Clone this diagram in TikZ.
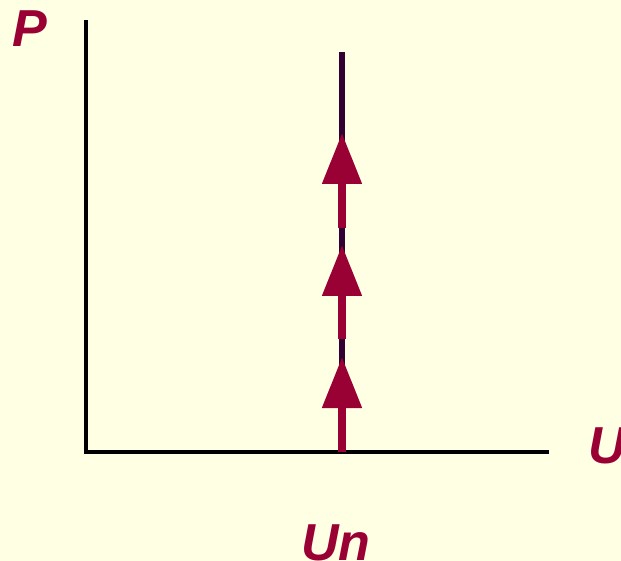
\documentclass[tikz,border=0pt]{standalone}
\usepackage{fontspec}
\setsansfont{Liberation Sans}
\usetikzlibrary{arrows.meta}
\definecolor{clrBg}  {RGB}{255,255,228}
\definecolor{clrLbl} {RGB}{153,  0, 51}
\definecolor{clrLine}{RGB}{ 51,  0, 51}
\tikzset{
  axis/.style={line width=4pt, draw=black},
  isoline/.style={line width=6pt, draw=clrLine},
  steparr/.style={-{Triangle[length=51pt,width=38pt]}, line width=8pt, draw=clrLbl, fill=clrLbl},
  axlbl/.style={font=\fontsize{52}{60}\selectfont\sffamily\bfseries\itshape, text=clrLbl,
    inner sep=0pt, anchor=base},
}

\begin{document}
\begin{tikzpicture}[x=1pt, y=-1pt]
\fill[clrBg] (0,0) rectangle (621,561);
\useasboundingbox (0,0) rectangle (621,561);
% axes
\coordinate (o) at (86,452);
\coordinate (ptop) at (86,20);
\coordinate (uend) at (549,452);
\draw[axis] (ptop) -- (o) -- (uend);
% vertical line at Un
\coordinate (nbot) at (342,452);
\coordinate (ntop) at (342,52);
\draw[isoline] (nbot) -- (ntop);
% arrows on the line
\foreach \i/\ya/\yb in {1/452/357, 2/339/245, 3/228/133}{
  \coordinate (s\i) at (342,\ya);
  \coordinate (e\i) at (342,\yb);
  \draw[steparr] (s\i) -- (e\i);
}
% labels
\node[axlbl] (plbl) at (30,47) {P};
\node[axlbl] (ulbl) at (607,463) {U};
\node[axlbl] (unlbl) at (336,560) {Un};
\end{tikzpicture}
\end{document}
